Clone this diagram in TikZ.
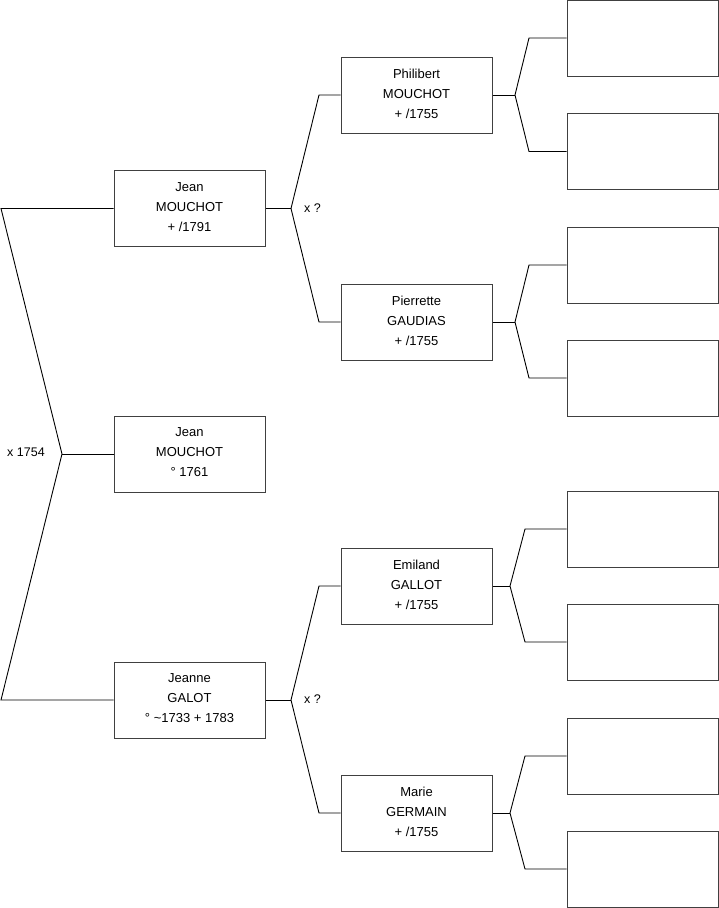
\documentclass[tikz,border=0pt]{standalone}
\usepackage{fontspec}
\setmainfont{Liberation Sans}
\begin{document}
\begin{tikzpicture}[x=1pt,y=-1pt,
  person/.style={draw=black!75, line width=1pt, minimum width=151pt, minimum height=76pt, inner sep=0pt, align=center, font=\fontsize{13}{20}\selectfont},
  link/.style={line width=0.9pt, draw=black},
  lbl/.style={font=\fontsize{12.5}{15}\selectfont, anchor=west, inner sep=0pt}]
\useasboundingbox (0,0) rectangle (719,908);
% generation 1
\node[person] (j1) at (189.5,208.5) {Jean\\MOUCHOT\\+ /1791\\[-17pt]\mbox{}};
\node[person] (j0) at (189.5,454) {Jean\\MOUCHOT\\° 1761\\[-17pt]\mbox{}};
\node[person] (j2) at (189.5,700) {Jeanne\\GALOT\\° \textasciitilde1733 + 1783\\[-17pt]\mbox{}};
% generation 2
\node[person] (p1) at (416.5,95) {Philibert\\MOUCHOT\\+ /1755\\[-17pt]\mbox{}};
\node[person] (p2) at (416.5,322) {Pierrette\\GAUDIAS\\+ /1755\\[-17pt]\mbox{}};
\node[person] (p3) at (416.5,586) {Emiland\\GALLOT\\+ /1755\\[-17pt]\mbox{}};
\node[person] (p4) at (416.5,813) {Marie\\GERMAIN\\+ /1755\\[-17pt]\mbox{}};
% generation 3 (empty)
\node[person] (r1) at (642.5,38) {};
\node[person] (r2) at (642.5,151.5) {};
\node[person] (r3) at (642.5,265) {};
\node[person] (r4) at (642.5,378) {};
\node[person] (r5) at (642.5,529) {};
\node[person] (r6) at (642.5,642) {};
\node[person] (r7) at (642.5,756) {};
\node[person] (r8) at (642.5,869) {};
% junction coordinates
\coordinate (a0) at (1,208.5);
\coordinate (v0) at (62,454);
\coordinate (b0) at (1,700);
\coordinate (v1) at (291,208.5);
\coordinate (a1) at (319,95);
\coordinate (b1) at (319,322);
\coordinate (v2) at (291,700);
\coordinate (a2) at (319,586);
\coordinate (b2) at (319,813);
\coordinate (vp1) at (515,95);
\coordinate (ap1) at (529,38);
\coordinate (bp1) at (529,151.5);
\coordinate (vp2) at (515,322);
\coordinate (ap2) at (529,265);
\coordinate (bp2) at (529,378);
\coordinate (vp3) at (510,586);
\coordinate (ap3) at (525,529);
\coordinate (bp3) at (525,642);
\coordinate (vp4) at (510,813);
\coordinate (ap4) at (525,756);
\coordinate (bp4) at (525,869);
% connectors
\draw[link] (j1.west) -- (a0) -- (v0) -- (b0) -- (j2.west);
\draw[link] (v0) -- (j0.west);
\draw[link] (j1.east) -- (v1);
\draw[link] (p1.west) -- (a1) -- (v1) -- (b1) -- (p2.west);
\draw[link] (j2.east) -- (v2);
\draw[link] (p3.west) -- (a2) -- (v2) -- (b2) -- (p4.west);
\draw[link] (p1.east) -- (vp1);
\draw[link] (r1.west) -- (ap1) -- (vp1) -- (bp1) -- (r2.west);
\draw[link] (p2.east) -- (vp2);
\draw[link] (r3.west) -- (ap2) -- (vp2) -- (bp2) -- (r4.west);
\draw[link] (p3.east) -- (vp3);
\draw[link] (r5.west) -- (ap3) -- (vp3) -- (bp3) -- (r6.west);
\draw[link] (p4.east) -- (vp4);
\draw[link] (r7.west) -- (ap4) -- (vp4) -- (bp4) -- (r8.west);
% labels
\node[lbl] (m0) at (7,452) {x 1754};
\node[lbl] (m1) at (304,208) {x ?};
\node[lbl] (m2) at (304,699) {x ?};
\end{tikzpicture}
\end{document}
